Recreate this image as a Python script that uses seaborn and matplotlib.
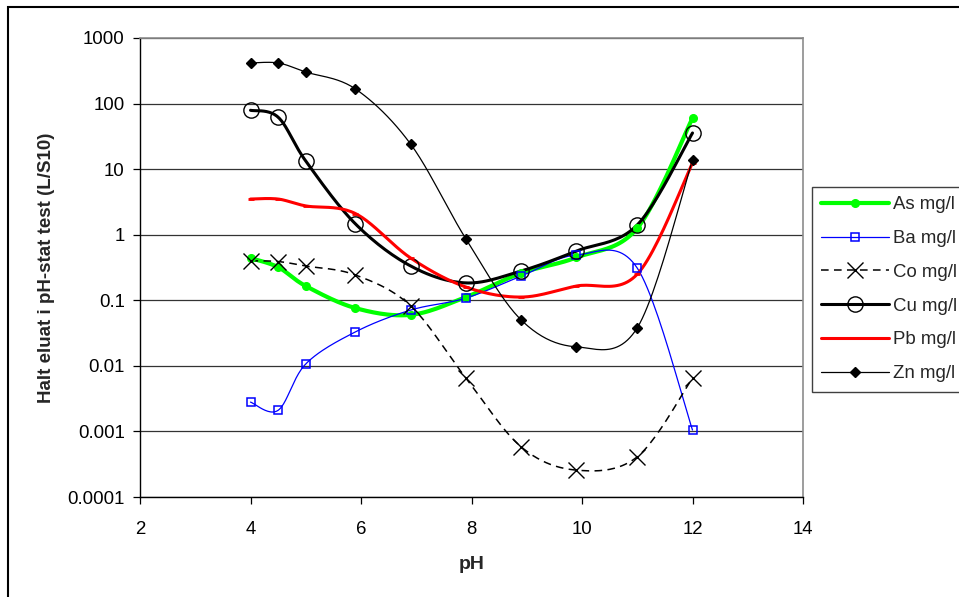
import numpy as np
import pandas as pd
import matplotlib
matplotlib.use("Agg")
import matplotlib.pyplot as plt
from matplotlib.lines import Line2D
from matplotlib.patches import Rectangle
import seaborn as sns

# data
ph = [4.0, 4.5, 5.0, 5.9, 6.9, 7.9, 8.9, 9.9, 11.0, 12.0]
as_mg = [0.44, 0.32, 0.165, 0.076, 0.060, 0.112, 0.26, 0.45, 1.26, 60]
ba_mg = [0.0028, 0.0021, 0.0107, 0.033, 0.071, 0.108, 0.234, 0.49, 0.31, 0.00105]
co_mg = [0.40, 0.39, 0.333, 0.243, 0.082, 0.0065, 0.00058, 0.000257, 0.00041, 0.0065]
cu_mg = [79, 62, 13.3, 1.46, 0.333, 0.184, 0.28, 0.565, 1.41, 35.6]
pb_mg = [3.5, 3.5, 2.75, 2.1, 0.44, 0.159, 0.112, 0.165, 0.25, 12.4]
zn_mg = [416, 416, 303, 167, 24, 0.86, 0.050, 0.0195, 0.038, 13.8]

labels = ['As mg/l', 'Ba mg/l', 'Co mg/l', 'Cu mg/l', 'Pb mg/l', 'Zn mg/l']
series = [as_mg, ba_mg, co_mg, cu_mg, pb_mg, zn_mg]

y_ticks = [1000, 100, 10, 1, 0.1, 0.01, 0.001, 0.0001]
y_tick_labels = ['1000', '100', '10', '1', '0.1', '0.01', '0.001', '0.0001']
x_ticks = [2, 4, 6, 8, 10, 12, 14]

styles = [
    dict(color='#00FF00', lw=3.0, ls='-', marker='o', ms=5.5, mfc='#00FF00', mec='#00FF00', mew=1),
    dict(color='#0000FF', lw=0.9, ls='-', marker='s', ms=6, mfc='none', mec='#0000FF', mew=1.1),
    dict(color='black', lw=1.1, ls=(0, (5, 3.5)), marker='x', ms=11, mfc='none', mec='black', mew=1.0),
    dict(color='black', lw=2.2, ls='-', marker='o', ms=11, mfc='none', mec='black', mew=1.0),
    dict(color='#FF0000', lw=2.2, ls='-', marker='_', ms=5, mfc='#FF0000', mec='#FF0000', mew=2),
    dict(color='black', lw=0.9, ls='-', marker='D', ms=5.5, mfc='black', mec='black', mew=1),
]


def smooth(xs, ys, n=25):
    # Excel-style smoothed line (Catmull-Rom bezier in screen space)
    pts = np.column_stack([np.asarray(xs, float), np.log10(ys)])
    out = [pts[0]]
    t = np.linspace(0, 1, n)[1:, None]
    for i in range(len(pts) - 1):
        p0 = pts[i - 1] if i > 0 else pts[i]
        p1, p2 = pts[i], pts[i + 1]
        p3 = pts[i + 2] if i + 2 < len(pts) else pts[i + 1]
        c1 = p1 + (p2 - p0) / 6
        c2 = p2 - (p3 - p1) / 6
        seg = (1 - t) ** 3 * p1 + 3 * (1 - t) ** 2 * t * c1 + 3 * (1 - t) * t ** 2 * c2 + t ** 3 * p2
        out.extend(seg)
    out = np.array(out)
    return out[:, 0], 10 ** out[:, 1]


sns.set_style('white')
plt.rcParams['font.family'] = ['Liberation Sans', 'DejaVu Sans']

fig = plt.figure(figsize=(9.59, 5.97), dpi=100)
ax = fig.add_axes([140 / 959, 1 - 497 / 597, 663 / 959, 459 / 597])

for vals, st in zip(series, styles):
    sx, sy = smooth(ph, vals)
    curve = pd.DataFrame({'pH': sx, 'val': sy})
    sns.lineplot(data=curve, x='pH', y='val', ax=ax, sort=False, estimator=None,
                 color=st['color'], lw=st['lw'], ls=st['ls'])
    pts = pd.DataFrame({'pH': ph, 'val': vals})
    ax.plot(pts['pH'], pts['val'], ls='none', marker=st['marker'], ms=st['ms'],
            mfc=st['mfc'], mec=st['mec'], mew=st['mew'], zorder=5)

ax.set_yscale('log')
ax.set_xlim(2, 14)
ax.set_ylim(0.0001, 1000)
ax.set_xticks(x_ticks)
ax.set_xticklabels([str(v) for v in x_ticks])
ax.set_yticks(y_ticks)
ax.set_yticklabels(y_tick_labels)
ax.yaxis.set_minor_locator(matplotlib.ticker.NullLocator())
ax.grid(axis='y', color='#333333', lw=0.9)
ax.grid(axis='x', visible=False)
ax.tick_params(axis='both', which='major', direction='out', length=5, width=0.9,
               color='black', labelsize=13.4, labelcolor='black', left=True, bottom=True)
ax.tick_params(axis='y', pad=6)
ax.tick_params(axis='x', pad=12)

for side in ['top', 'right']:
    ax.spines[side].set_color('#8c8c8c')
    ax.spines[side].set_linewidth(1.2)
for side in ['left', 'bottom']:
    ax.spines[side].set_color('black')
    ax.spines[side].set_linewidth(1.0)

ax.set_xlabel('pH', fontsize=14, fontweight='bold', labelpad=13)
ax.set_ylabel('Halt eluat i pH-stat test (L/S10)', fontsize=13.5, fontweight='bold', labelpad=9)

handles = [Line2D([0], [0], color=st['color'], lw=st['lw'], ls=st['ls'], marker=st['marker'],
                  ms=st['ms'], mfc=st['mfc'], mec=st['mec'], mew=st['mew']) for st in styles]
leg = fig.legend(handles, labels, loc='upper left', bbox_to_anchor=(812 / 959, 1 - 187 / 597),
                 frameon=True, fancybox=False, shadow=False, fontsize=13.4, handlelength=3.65,
                 handletextpad=0.2, labelspacing=0.9, borderpad=0.5, borderaxespad=0, numpoints=1)
leg.get_frame().set_edgecolor('#404040')
leg.get_frame().set_linewidth(1.0)
leg.get_frame().set_alpha(1)

fig.add_artist(Rectangle((8 / 959, -0.1), 1.2, 1.1 - 7 / 597, transform=fig.transFigure,
                         fill=False, edgecolor='black', lw=1.5, clip_on=False))

fig.savefig('out.png', dpi=100)
